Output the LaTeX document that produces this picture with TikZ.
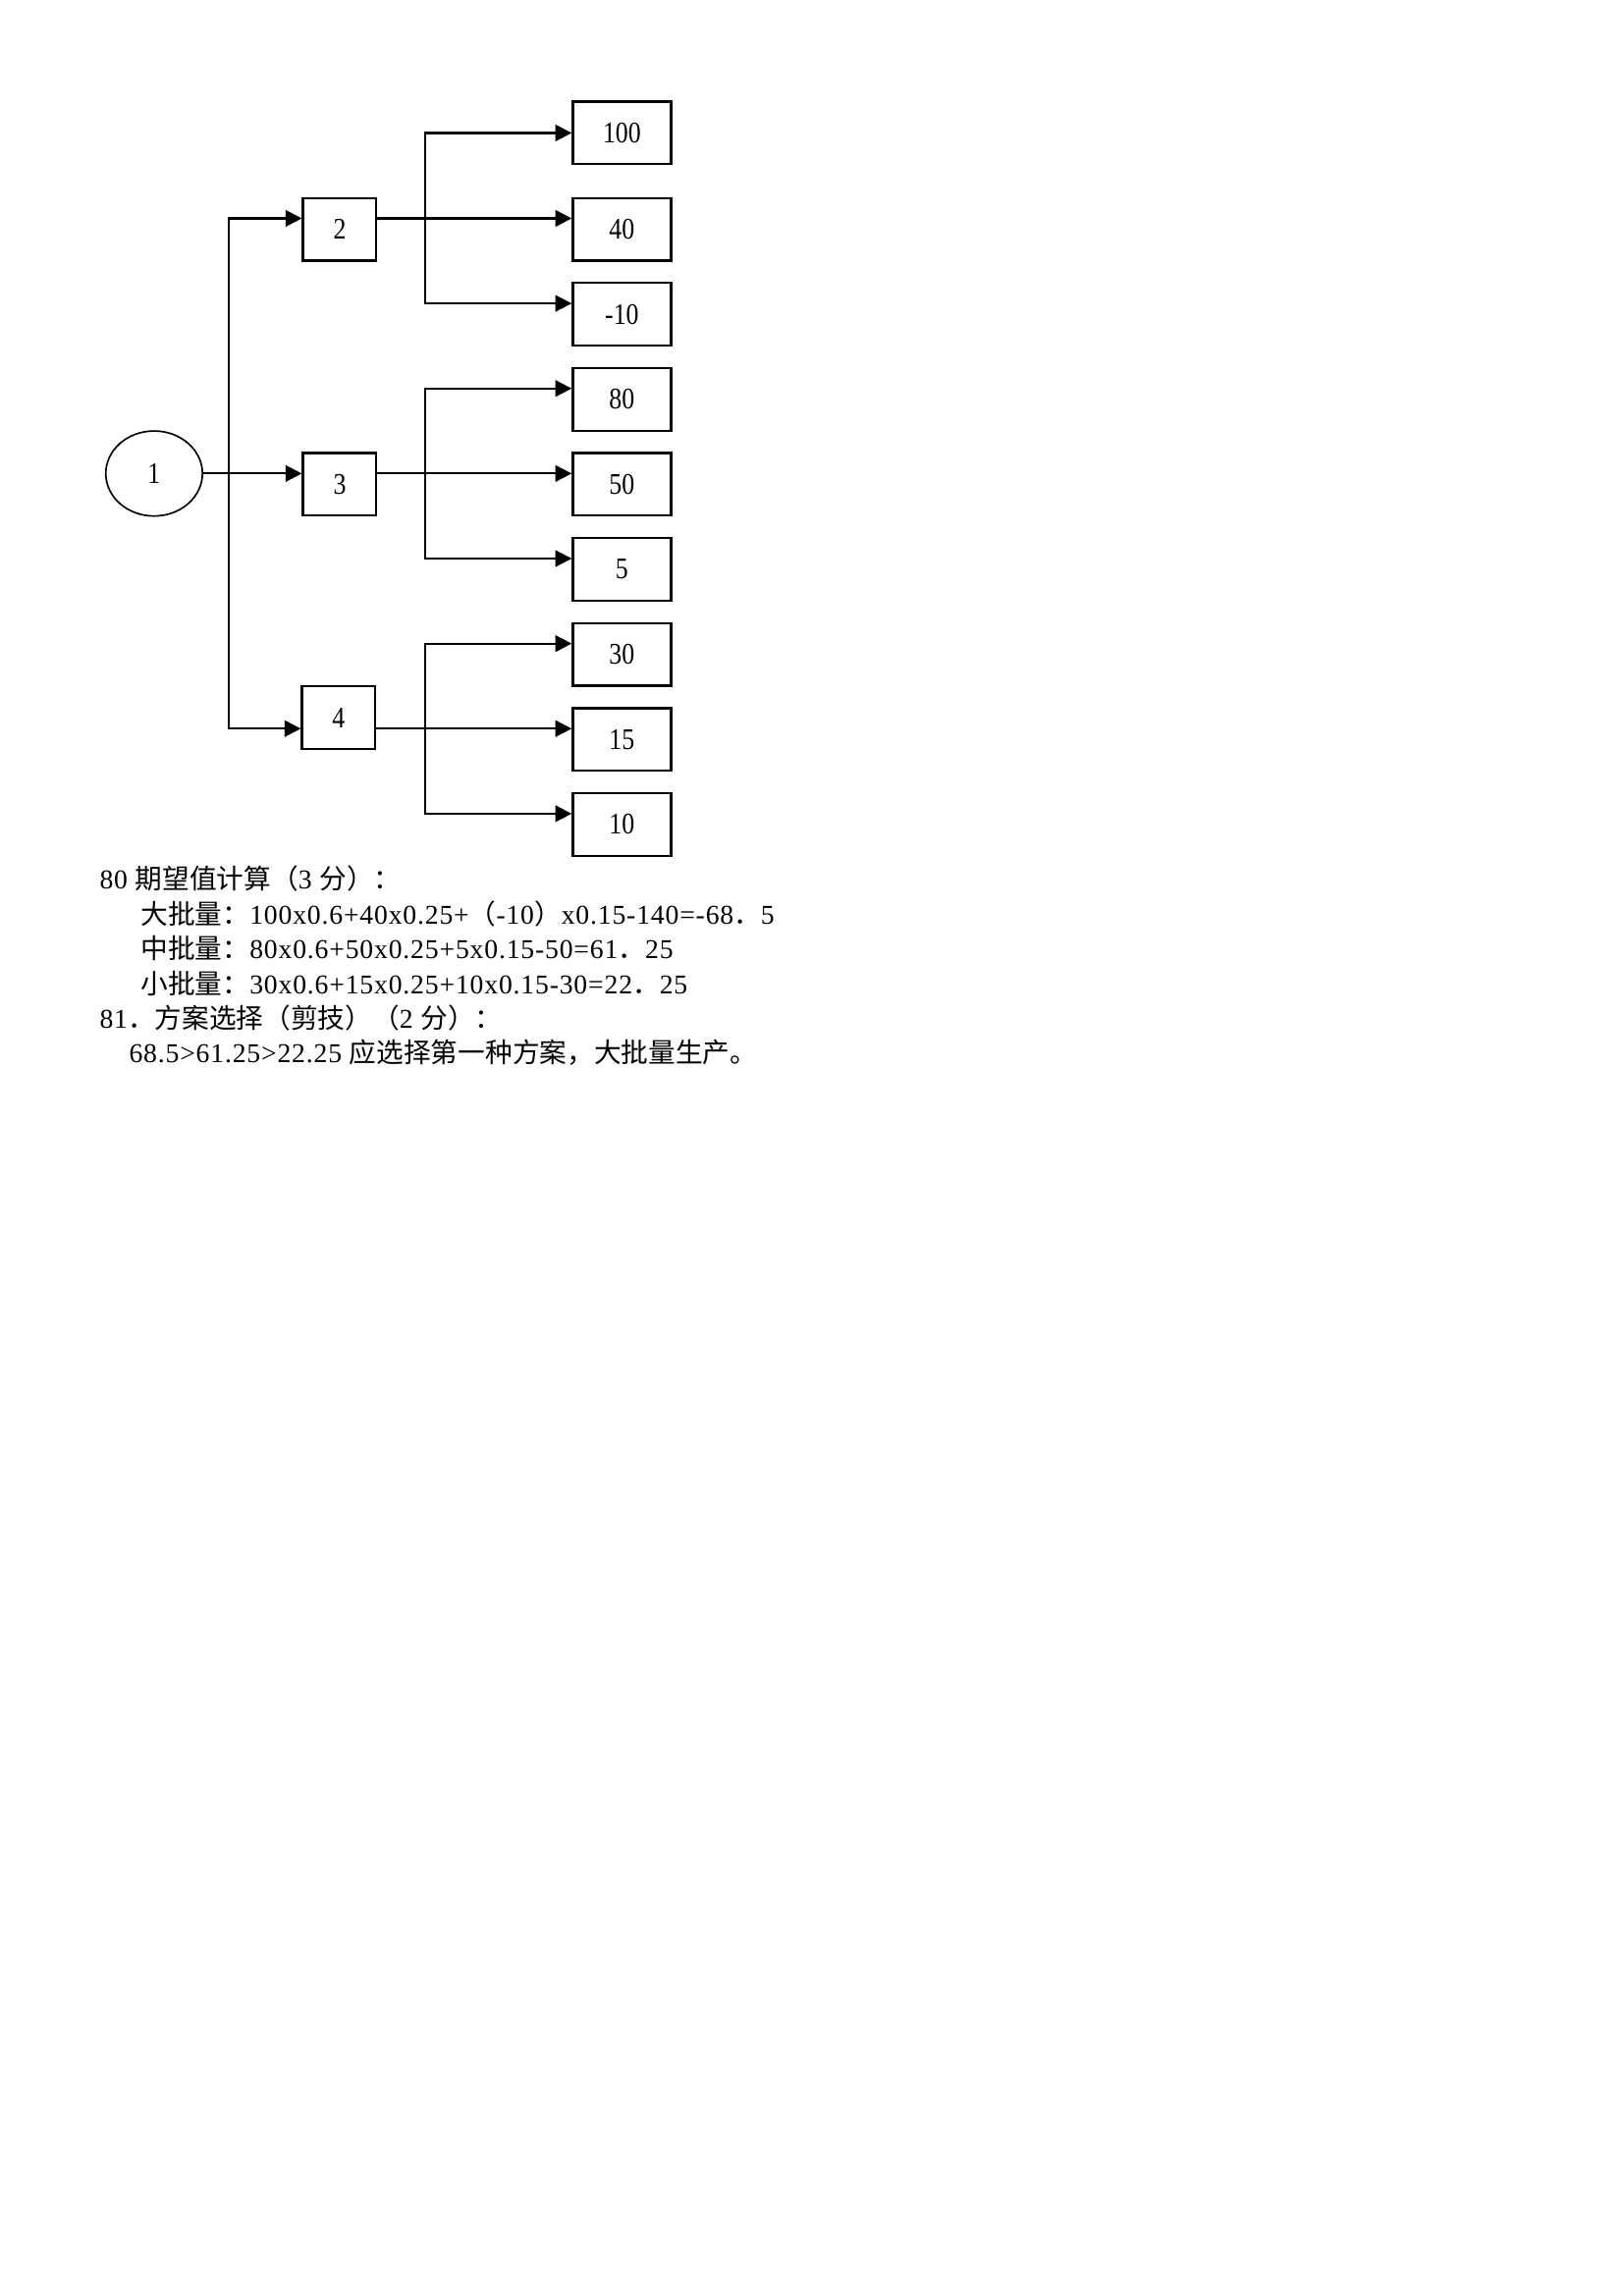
\documentclass[tikz,border=0pt]{standalone}
\usepackage{fontspec}
\setmainfont[LetterSpace=3]{Liberation Serif}
\newfontfamily\cjk{Noto Sans CJK SC}
\newfontfamily\boxfont[FakeStretch=0.85]{Liberation Serif}
\usepackage{tikz}
\usetikzlibrary{shapes,arrows.meta}
\tikzstyle{chance} = [draw, ellipse, line width=0.6pt, minimum width=1.25cm, minimum height=1.1cm, inner sep=0pt, font=\boxfont\fontsize{11pt}{13pt}\selectfont]
\tikzstyle{smallbox} = [draw, line width=0.8pt, minimum width=0.95cm, minimum height=0.81cm, inner sep=0pt, font=\boxfont\fontsize{11pt}{13pt}\selectfont]
\tikzstyle{leafbox} = [draw, line width=0.8pt, minimum width=1.27cm, minimum height=0.81cm, inner sep=0pt, font=\boxfont\fontsize{11pt}{13pt}\selectfont]
\tikzstyle{link} = [-{Triangle[length=6pt,width=6pt]}, line width=0.8pt]
\tikzstyle{textline} = [anchor=base west, inner sep=0pt, font=\fontsize{10pt}{12pt}\selectfont]
\def\lift{1.4mm}

\begin{document}
\begin{tikzpicture}[auto]
		\useasboundingbox (0,0) rectangle (21,-29.7);
		
		\node [leafbox] (r1) at (8.043,-1.720) {100};
		\node [leafbox, below of = r1, node distance=1.245cm] (r2) {40};
		\node [leafbox, below of = r2, node distance=1.1cm] (r3) {-10};
		\node [leafbox, below of = r3, node distance=1.1cm] (r4) {80};
		\node [leafbox, below of = r4, node distance=1.1cm] (r5) {50};
		\node [leafbox, below of = r5, node distance=1.1cm] (r6) {5};
		\node [leafbox, below of = r6, node distance=1.1cm] (r7) {30};
		\node [leafbox, below of = r7, node distance=1.1cm] (r8) {15};
		\node [leafbox, below of = r8, node distance=1.1cm] (r9) {10};
		
		\node [smallbox, left of = r2, node distance=3.65cm] (s2) {2};
		\node [smallbox, left of = r5, node distance=3.65cm] (s3) {3};
		\node [smallbox, left of = r8, node distance=3.663cm, yshift=2.8mm] (s4) {4};
		\node [chance, left of = s3, node distance=2.4cm, yshift=\lift] (s1) {1};
		
		\coordinate (k1) at (2.958,0);
		\coordinate (k2) at (5.498,0);
		\coordinate (e1) at (r1.west);
		\coordinate (e2) at ([yshift=\lift]r2.west);
		\coordinate (e3) at ([yshift=\lift]r3.west);
		\coordinate (e4) at ([yshift=\lift]r4.west);
		\coordinate (e5) at ([yshift=\lift]r5.west);
		\coordinate (e6) at ([yshift=\lift]r6.west);
		\coordinate (e7) at ([yshift=\lift]r7.west);
		\coordinate (e8) at ([yshift=\lift]r8.west);
		\coordinate (e9) at ([yshift=\lift]r9.west);
		
		\draw [link] (s1.east) -- (s3.west |- s1.east);
		\draw [link] (k1 |- s1.east) |- (s2.west |- e2);
		\draw [link] (k1 |- s1.east) |- (s4.west |- e8);
		
		\draw [link] (s2.east |- e2) -- (e2);
		\draw [link] (k2 |- e2) |- (e1);
		\draw [link] (k2 |- e2) |- (e3);
		\draw [link] (s3.east |- e5) -- (e5);
		\draw [link] (k2 |- e5) |- (e4);
		\draw [link] (k2 |- e5) |- (e6);
		\draw [link] (s4.east |- e8) -- (e8);
		\draw [link] (k2 |- e8) |- (e7);
		\draw [link] (k2 |- e8) |- (e9);
		
		\node [textline] (l1) at (1.282,-11.503) {80 {\cjk 期望值计算（}3 {\cjk 分）：}};
		\node [textline] (l2) at (1.816,-11.961) {{\cjk 大批量：}100x0.6+40x0.25+{\cjk （}-10{\cjk ）}x0.15-140=-68{\cjk ．}5};
		\node [textline] (l3) at (1.816,-12.405) {{\cjk 中批量：}80x0.6+50x0.25+5x0.15-50=61{\cjk ．}25};
		\node [textline] (l4) at (1.816,-12.862) {{\cjk 小批量：}30x0.6+15x0.25+10x0.15-30=22{\cjk ．}25};
		\node [textline] (l5) at (1.282,-13.306) {81{\cjk ．方案选择（剪技）（}2 {\cjk 分）：}};
		\node [textline] (l6) at (1.663,-13.751) {68.5>61.25>22.25 {\cjk 应选择第一种方案，大批量生产。}};
		
		\end{tikzpicture}
\end{document}
